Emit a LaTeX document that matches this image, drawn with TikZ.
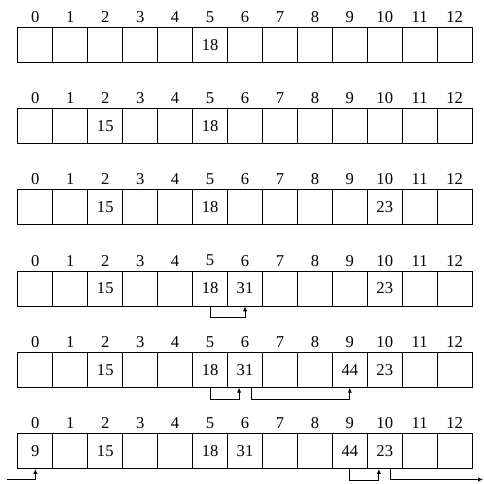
\documentclass[tikz,border=0pt]{standalone}
\usepackage{fontspec}
\setmainfont{Liberation Serif}
\usetikzlibrary{arrows.meta,positioning,calc}

\tikzset{
  cell/.style={draw,line width=0.7pt,minimum width=1cm,minimum height=1cm,inner sep=0pt,anchor=north west},
  idx/.style={inner sep=0pt},
  hop/.style={line width=0.7pt,-{Latex[length=4pt,width=3.5pt]}},
}

\begin{document}
\begin{tikzpicture}[font=\fontsize{13.5}{16}\selectfont]
\useasboundingbox (0,0) rectangle (13.824,-13.852);
\foreach \r in {1,...,6}{
  \foreach \i in {0,...,12}{
    \node[cell] (c\r-\i) at ({0.5+\i},{-0.764-2.327*(\r-1)}) {};
    \node[idx] (l\r-\i) at ($(c\r-\i.north)+(0,0.286)$) {\i};
  }
}
\foreach \r/\i/\v in {1/5/18, 2/2/15,2/5/18, 3/2/15,3/5/18,3/10/23,
    4/2/15,4/5/18,4/6/31,4/10/23, 5/2/15,5/5/18,5/6/31,5/9/44,5/10/23,
    6/0/9,6/2/15,6/5/18,6/6/31,6/9/44,6/10/23}
  \node (v\r-\i) at (c\r-\i) {\v};
\draw[hop] (c4-5.south) -- ++(0,-0.323) -| (c4-6.south);
\draw[hop] (c5-5.south) -- ++(0,-0.323) -| ([xshift=-0.17cm]c5-6.south);
\draw[hop] ([xshift=0.17cm]c5-6.south) -- ++(0,-0.323) -| (c5-9.south);
\coordinate (in) at (0.19,-13.722);
\coordinate (out) at (13.824,-13.722);
\draw[hop] (in) -| (c6-0.south);
\draw[hop] (c6-9.south) -- ++(0,-0.323) -| ([xshift=-0.17cm]c6-10.south);
\draw[hop] ([xshift=0.17cm]c6-10.south) |- (out);
\end{tikzpicture}
\end{document}
